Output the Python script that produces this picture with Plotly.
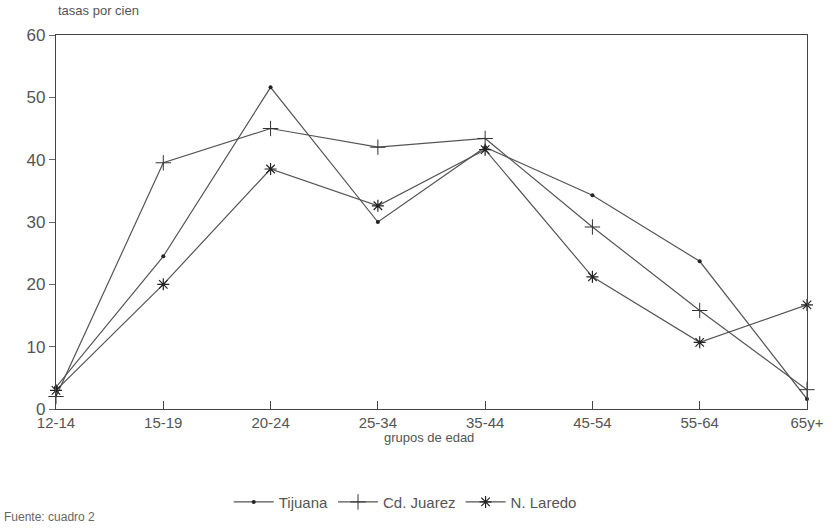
import plotly.graph_objects as go

groups = ["12-14", "15-19", "20-24", "25-34", "35-44", "45-54", "55-64", "65y+"]
tijuana = [3.5, 24.5, 51.6, 30.0, 42.0, 34.3, 23.7, 1.6]
juarez = [2.0, 39.5, 45.0, 42.0, 43.4, 29.2, 15.8, 3.1]
laredo = [3.0, 20.0, 38.5, 32.6, 41.6, 21.2, 10.7, 16.7]

series = [
    ("Tijuana", tijuana, dict(symbol="circle", size=4)),
    ("Cd. Juarez", juarez, dict(symbol="cross-thin", size=11, line=dict(width=1, color="#333"))),
    ("N. Laredo", laredo, dict(symbol="asterisk", size=10, line=dict(width=1.2, color="#222"))),
]

x_idx = list(range(len(groups)))
fig = go.Figure()
for name, vals, mk in series:
    fig.add_trace(go.Scatter(
        x=x_idx, y=vals, name=name, mode="lines+markers",
        line=dict(color="#555", width=1.2),
        marker=dict(color="#222", **mk),
        cliponaxis=False,
    ))

font_family = "Liberation Sans, Arial, sans-serif"
fig.update_layout(
    width=834, height=529,
    paper_bgcolor="white", plot_bgcolor="white",
    margin=dict(l=56, r=27, t=35, b=120, autoexpand=False),
    font=dict(family=font_family, color="#555", size=15),
    showlegend=True,
    legend=dict(orientation="h", x=0.465, xanchor="center", y=-0.205, yanchor="top",
                font=dict(size=15, color="#555"), itemwidth=40, tracegroupgap=0),
    annotations=[
        dict(text="tasas por cien", xref="paper", yref="paper", x=0.0, y=1.04,
             xanchor="left", yanchor="bottom", showarrow=False, font=dict(size=13, color="#555")),
        dict(text="grupos de edad", xref="paper", yref="paper", x=0.497, y=-0.075,
             xanchor="center", yanchor="middle", showarrow=False, font=dict(size=13, color="#555")),
        dict(text="Fuente: cuadro 2", xref="paper", yref="paper", x=-0.072, y=-0.289,
             xanchor="left", yanchor="middle", showarrow=False, font=dict(size=12, color="#666")),
    ],
)
fig.update_xaxes(
    range=[0, 7], tickvals=x_idx, ticktext=groups, automargin=False,
    showgrid=False, zeroline=False, showline=True, linecolor="#444", linewidth=1.2,
    mirror=True, ticks="inside", ticklen=8, tickcolor="#444",
    tickfont=dict(size=15, color="#555"),
)
fig.update_yaxes(
    range=[0, 60], dtick=10, automargin=False,
    showgrid=False, zeroline=False, showline=True, linecolor="#444", linewidth=1.2,
    mirror=True, ticks="outside", ticklen=6, tickcolor="#666",
    tickfont=dict(size=17, color="#555"),
)

fig.write_html("out.html", config={"displayModeBar": False},
               post_script="document.body.style.margin='0';")
